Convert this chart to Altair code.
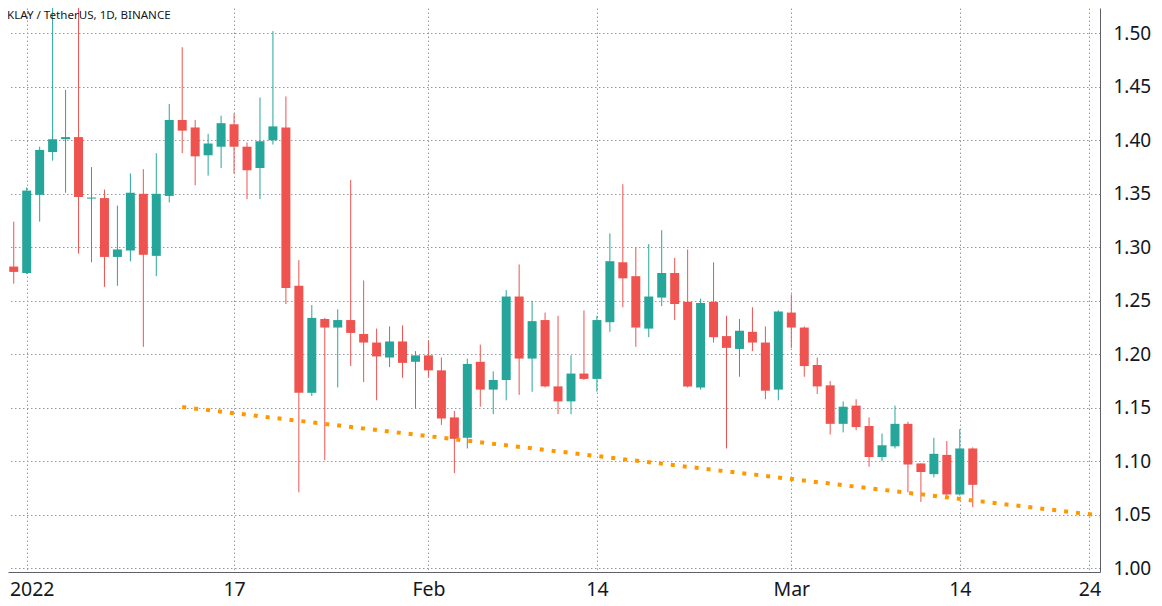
import altair as alt
import pandas as pd
import numpy as np

# ---- data (KLAY / TetherUS, daily, Binance) ----
dates = pd.date_range("2021-12-30", "2022-03-15", freq="D").strftime("%Y-%m-%d").tolist()

opens = [1.250, 1.282, 1.276, 1.349, 1.389, 1.401, 1.403, 1.3455, 1.346, 1.291,
         1.297, 1.350, 1.292, 1.348, 1.419, 1.412, 1.386, 1.394, 1.415, 1.394,
         1.374, 1.400, 1.412, 1.264, 1.164, 1.233, 1.225, 1.232, 1.219, 1.211,
         1.197, 1.212, 1.193, 1.199, 1.185, 1.141, 1.122, 1.193, 1.167, 1.176,
         1.254, 1.196, 1.232, 1.170, 1.156, 1.182, 1.177, 1.230, 1.286, 1.273,
         1.224, 1.253, 1.276, 1.249, 1.169, 1.249, 1.217, 1.205, 1.221, 1.211,
         1.167, 1.239, 1.225, 1.190, 1.171, 1.135, 1.152, 1.133, 1.104, 1.114,
         1.135, 1.098, 1.088, 1.106, 1.069, 1.112]
highs = [1.301, 1.324, 1.356, 1.394, 1.540, 1.447, 1.545, 1.375, 1.354, 1.339,
         1.369, 1.373, 1.388, 1.434, 1.487, 1.419, 1.406, 1.423, 1.425, 1.398,
         1.440, 1.502, 1.441, 1.288, 1.246, 1.234, 1.242, 1.363, 1.269, 1.224,
         1.226, 1.227, 1.203, 1.213, 1.197, 1.147, 1.196, 1.209, 1.184, 1.260,
         1.284, 1.250, 1.239, 1.236, 1.199, 1.241, 1.236, 1.313, 1.359, 1.300,
         1.303, 1.316, 1.290, 1.298, 1.252, 1.286, 1.236, 1.233, 1.244, 1.226,
         1.241, 1.256, 1.226, 1.197, 1.175, 1.156, 1.158, 1.141, 1.126, 1.152,
         1.137, 1.098, 1.122, 1.119, 1.130, 1.113]
lows = [1.227, 1.266, 1.275, 1.324, 1.381, 1.351, 1.294, 1.286, 1.263, 1.264,
        1.287, 1.207, 1.273, 1.342, 1.388, 1.358, 1.367, 1.374, 1.369, 1.345,
        1.345, 1.396, 1.247, 1.071, 1.161, 1.101, 1.169, 1.189, 1.174, 1.157,
        1.188, 1.178, 1.149, 1.179, 1.134, 1.089, 1.112, 1.151, 1.144, 1.157,
        1.162, 1.165, 1.169, 1.144, 1.144, 1.176, 1.165, 1.221, 1.244, 1.207,
        1.216, 1.245, 1.232, 1.169, 1.167, 1.211, 1.112, 1.179, 1.203, 1.158,
        1.157, 1.206, 1.179, 1.163, 1.125, 1.127, 1.129, 1.095, 1.100, 1.112,
        1.071, 1.062, 1.085, 1.065, 1.068, 1.057]
closes = [1.283, 1.277, 1.353, 1.391, 1.401, 1.403, 1.347, 1.3465, 1.291, 1.298,
          1.351, 1.293, 1.350, 1.419, 1.409, 1.385, 1.397, 1.416, 1.394, 1.372,
          1.399, 1.413, 1.262, 1.164, 1.234, 1.225, 1.232, 1.220, 1.211, 1.198,
          1.212, 1.192, 1.199, 1.185, 1.140, 1.121, 1.191, 1.167, 1.176, 1.254,
          1.196, 1.231, 1.170, 1.156, 1.182, 1.177, 1.232, 1.287, 1.271, 1.225,
          1.254, 1.276, 1.247, 1.170, 1.248, 1.216, 1.206, 1.222, 1.211, 1.166,
          1.240, 1.225, 1.189, 1.170, 1.135, 1.151, 1.132, 1.104, 1.115, 1.135,
          1.097, 1.090, 1.107, 1.069, 1.112, 1.078]

# time-axis ticks
tick_dates = ["2022-01-01", "2022-01-17", "2022-02-01", "2022-02-14",
              "2022-03-01", "2022-03-14", "2022-03-24"]
tick_labels = ["2022", "17", "Feb", "14", "Mar", "14", "24"]
# price-axis ticks
price_ticks = [1.00, 1.05, 1.10, 1.15, 1.20, 1.25, 1.30, 1.35, 1.40, 1.45, 1.50]

# dotted support trend line
trend_dates = ["2022-01-13", "2022-03-25"]
trend_prices = [1.1507, 1.0491]

title_text = "KLAY / TetherUS, 1D, BINANCE"

# visible window of the chart
view_start = "2021-12-30T13:22"
view_end = "2022-03-24T19:40"
price_min, price_max = 0.99654, 1.52364

# ---- build tables ----
origin = pd.Timestamp("2022-01-01")


def day_no(s):
    return float((pd.Timestamp(s) - origin) / pd.Timedelta(days=1))


df = pd.DataFrame({"date": dates, "open": opens, "high": highs,
                   "low": lows, "close": closes})
df["day"] = [day_no(s) for s in dates]
df["dir"] = np.where(df["close"] >= df["open"], "up", "down")

trend = pd.DataFrame({"day": [day_no(s) for s in trend_dates], "price": trend_prices})
tick_days = [day_no(s) for s in tick_dates]

label_expr = "''"
for dval, lab in reversed(list(zip(tick_days, tick_labels))):
    label_expr = f"datum.value == {dval:g} ? '{lab}' : ({label_expr})"

GREEN = "#26a69a"
RED = "#ef5350"
FONT = "Noto Sans"
TXT = "#131722"
GRID = "#9598a1"
AXIS = "#5d606b"

xscale = alt.Scale(domain=[day_no(view_start), day_no(view_end)], nice=False,
                   zero=False, padding=0)
yscale = alt.Scale(domain=[price_min, price_max], nice=False, zero=False, padding=0)

# keep the first time label inside the page
first_label_offset = {"condition": {"test": f"datum.value == {tick_days[0]:g}", "value": 5},
                      "value": 0}

xaxis = alt.Axis(values=tick_days, labelExpr=label_expr, title=None, grid=True,
                 gridColor=GRID, gridDash=[1.5, 2.5], gridWidth=1,
                 ticks=False, domainColor=AXIS, domainWidth=1,
                 labelFont=FONT, labelFontSize=19.5, labelColor=TXT,
                 labelPadding=8, labelFlush=False, labelOverlap=False, labelBound=False,
                 labelOffset=first_label_offset)
yaxis = alt.Axis(values=price_ticks, format=".2f", orient="right", title=None, grid=True,
                 gridColor=GRID, gridDash=[1.5, 2.5], gridWidth=1,
                 ticks=False, domainColor=AXIS, domainWidth=1,
                 labelFont=FONT, labelFontSize=19, labelColor=TXT,
                 labelPadding=13, labelFlush=False, labelOverlap=False)

color = alt.Color("dir:N", scale=alt.Scale(domain=["up", "down"], range=[GREEN, RED]),
                  legend=None)

wicks = alt.Chart(df).mark_rule(strokeWidth=1, clip=True).encode(
    x=alt.X("day:Q", scale=xscale, axis=xaxis),
    y=alt.Y("low:Q", scale=yscale, axis=yaxis),
    y2="high:Q",
    color=color,
)

bodies = alt.Chart(df).mark_bar(size=9, clip=True).encode(
    x=alt.X("day:Q", scale=xscale, axis=xaxis),
    y=alt.Y("open:Q", scale=yscale, axis=yaxis),
    y2="close:Q",
    color=color,
)

trend_line = alt.Chart(trend).mark_line(
    color="#ff9800", strokeWidth=4, strokeDash=[4, 8], strokeCap="butt", clip=True
).encode(
    x=alt.X("day:Q", scale=xscale, axis=xaxis),
    y=alt.Y("price:Q", scale=yscale, axis=yaxis),
)

title_layer = alt.Chart(pd.DataFrame({"t": [title_text]})).mark_text(
    align="left", baseline="middle", font=FONT, fontSize=11.6, color=TXT
).encode(x=alt.value(-1), y=alt.value(7.5), text="t:N")

chart = alt.layer(wicks, bodies, trend_line, title_layer).properties(
    width=1092, height=564,
    padding={"left": 0, "top": 0, "right": 52, "bottom": 28},
    autosize=alt.AutoSizeParams(type="none"),
    background="white",
).configure_view(stroke=None)

chart.save("out.html", embed_options={"renderer": "svg", "actions": False})
